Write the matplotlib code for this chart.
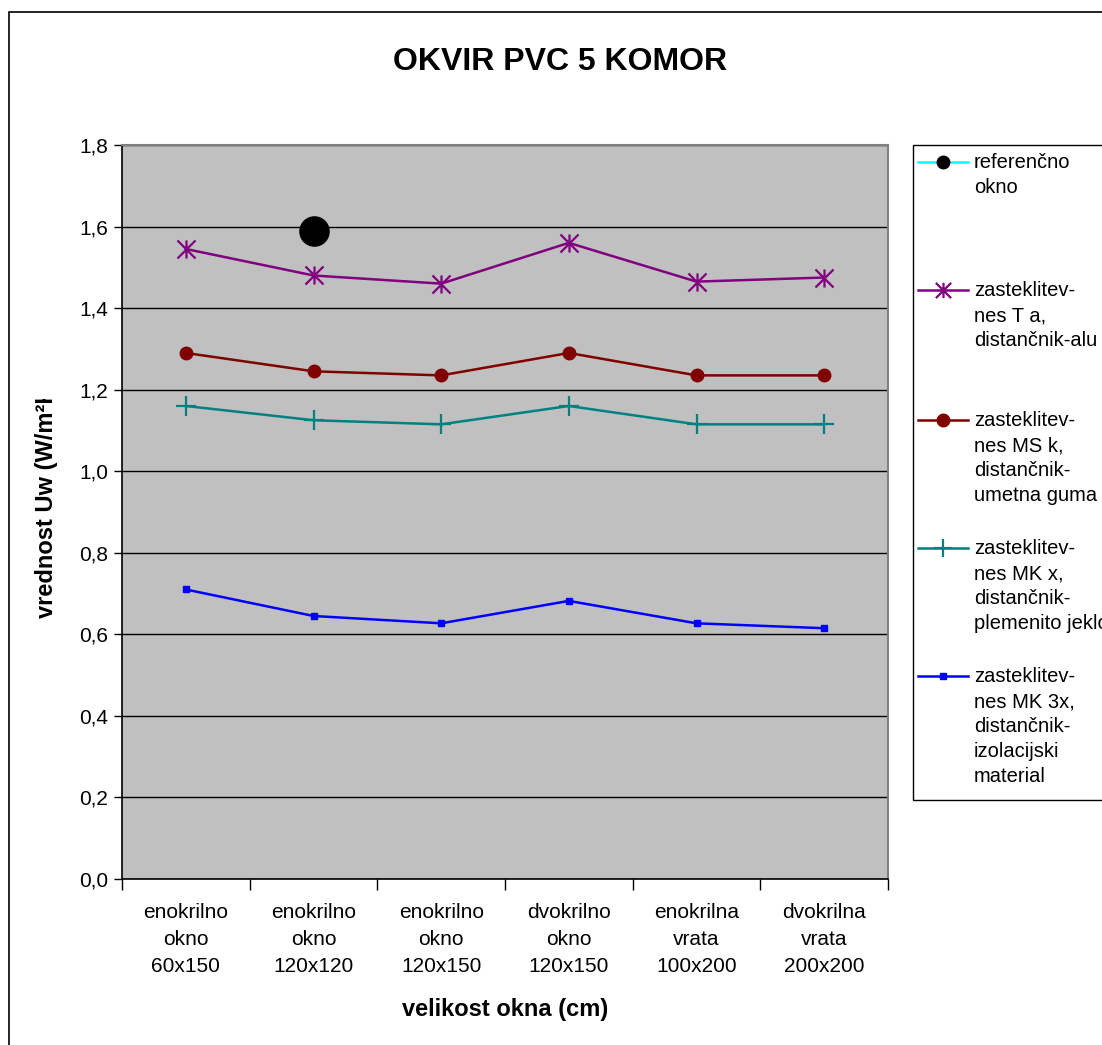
import matplotlib
matplotlib.use('Agg')
import matplotlib.pyplot as plt
import numpy as np
from matplotlib.lines import Line2D
from matplotlib.patches import Rectangle
from matplotlib.path import Path
from matplotlib.transforms import Bbox

plt.rcParams['font.family'] = ['Liberation Sans', 'DejaVu Sans']

# velikosti oken
kategorije = ['enokrilno\nokno\n60x150', 'enokrilno\nokno\n120x120', 'enokrilno\nokno\n120x150',
              'dvokrilno\nokno\n120x150', 'enokrilna\nvrata\n100x200', 'dvokrilna\nvrata\n200x200']

# Uw vrednosti po zasteklitvah
referencno = [np.nan, 1.59, np.nan, np.nan, np.nan, np.nan]
ta_alu = [1.545, 1.48, 1.46, 1.56, 1.465, 1.475]
msk_guma = [1.29, 1.245, 1.235, 1.29, 1.235, 1.235]
mkx_jeklo = [1.16, 1.125, 1.115, 1.16, 1.115, 1.115]
mk3x_izolacija = [0.71, 0.645, 0.627, 0.682, 0.627, 0.615]

legenda = ['referenčno\nokno',
           'zasteklitev-\nnes T a,\ndistančnik-alu',
           'zasteklitev-\nnes MS k,\ndistančnik-\numetna guma',
           'zasteklitev-\nnes MK x,\ndistančnik-\nplemenito jeklo',
           'zasteklitev-\nnes MK 3x,\ndistančnik-\nizolacijski\nmaterial']

W, H = 1102, 1045
fig = plt.figure(figsize=(W / 100, H / 100), dpi=100)
fig.patch.set_facecolor('white')

# zvezdica kot v Excelu: X + navpicna crta
zvezda = Path([(0, -1), (0, 1), (-1, -1), (1, 1), (-1, 1), (1, -1)],
              [Path.MOVETO, Path.LINETO, Path.MOVETO, Path.LINETO, Path.MOVETO, Path.LINETO])

ax = fig.add_axes([122 / W, 1 - 879 / H, (888 - 122) / W, (879 - 145) / H])
ax.set_facecolor('#c0c0c0')

x = np.arange(len(kategorije))
serije = [
    (ta_alu, dict(color='#800080', marker=zvezda, ms=13, mew=1.6)),
    (msk_guma, dict(color='#800000', marker='o', ms=9)),
    (mkx_jeklo, dict(color='#008080', marker='+', ms=14, mew=1.6)),
    (mk3x_izolacija, dict(color='#0000ff', marker='s', ms=4)),
]
for vals, st in serije:
    ax.plot(x, vals, lw=1.8, zorder=3, **st)
ax.plot(x, referencno, color='#00ffff', lw=1.8, marker='o', ms=21,
        mfc='black', mec='black', zorder=4)

ax.set_xlim(-0.5, 5.5)
ax.set_ylim(0, 1.8)
ax.set_yticks(np.arange(0, 1.81, 0.2))
ax.set_yticklabels([f'{v:.1f}'.replace('.', ',') for v in np.arange(0, 1.81, 0.2)])
ax.yaxis.grid(True, color='black', lw=1)
ax.set_axisbelow(True)
ax.set_xticks(x)
ax.set_xticklabels(kategorije, linespacing=1.55)
ax.set_xticks(np.arange(-0.5, 6, 1), minor=True)
ax.tick_params(axis='x', which='major', length=0, pad=17, labelsize=15)
ax.tick_params(axis='x', which='minor', length=8, width=1, direction='out')
ax.tick_params(axis='y', length=6, width=1, direction='out', pad=4, labelsize=15)
for s in ['top', 'right']:
    ax.spines[s].set_color('#808080')
    ax.spines[s].set_linewidth(1.5)
for s in ['left', 'bottom']:
    ax.spines[s].set_color('black')
    ax.spines[s].set_linewidth(1.2)

ax.set_xlabel('velikost okna (cm)', fontsize=17, fontweight='bold')
ax.xaxis.set_label_coords(0.5, -(998 - 879) / (879 - 145))

fig.text(560 / W, 1 - 62 / H, 'OKVIR PVC 5 KOMOR', fontsize=23, fontweight='bold',
         ha='center', va='center')

# os y - napis je odrezan na vrhu
ylab = fig.text(47 / W, 1 - 618 / H, 'vrednost Uw (W/m²K)', fontsize=17, fontweight='bold',
                rotation=90, ha='center', va='bottom')
ylab.set_clip_box(Bbox([[0, H - 700], [W, H - 399]]))
ylab.set_clip_on(True)

# okvir grafa
fig.patches.append(Rectangle((9 / W, -0.1), 1.2, 1 - 12 / H + 0.1, transform=fig.transFigure,
                             fill=False, ec='black', lw=1.2))

# legenda
fig.patches.append(Rectangle((913 / W, 1 - 800 / H), 0.3, (800 - 145) / H,
                             transform=fig.transFigure, fill=False, ec='black', lw=1))
vrh = [162, 290, 420, 548, 676]
stili = [dict(color='#00ffff', marker='o', ms=9, mfc='black', mec='black'),
         dict(color='#800080', marker=zvezda, ms=11, mew=1.6),
         dict(color='#800000', marker='o', ms=9),
         dict(color='#008080', marker='+', ms=13, mew=1.6),
         dict(color='#0000ff', marker='s', ms=4)]
for yy, lab, st in zip(vrh, legenda, stili):
    yf = 1 - yy / H
    fig.lines.append(Line2D([918 / W, 968 / W], [yf, yf], transform=fig.transFigure,
                            lw=1.8, color=st['color']))
    fig.lines.append(Line2D([943 / W], [yf], transform=fig.transFigure, lw=0, **st))
    fig.text(974 / W, 1 - (yy - 9) / H, lab, fontsize=14.5, ha='left', va='top',
             linespacing=1.4)

fig.savefig('out.png', dpi=100)
